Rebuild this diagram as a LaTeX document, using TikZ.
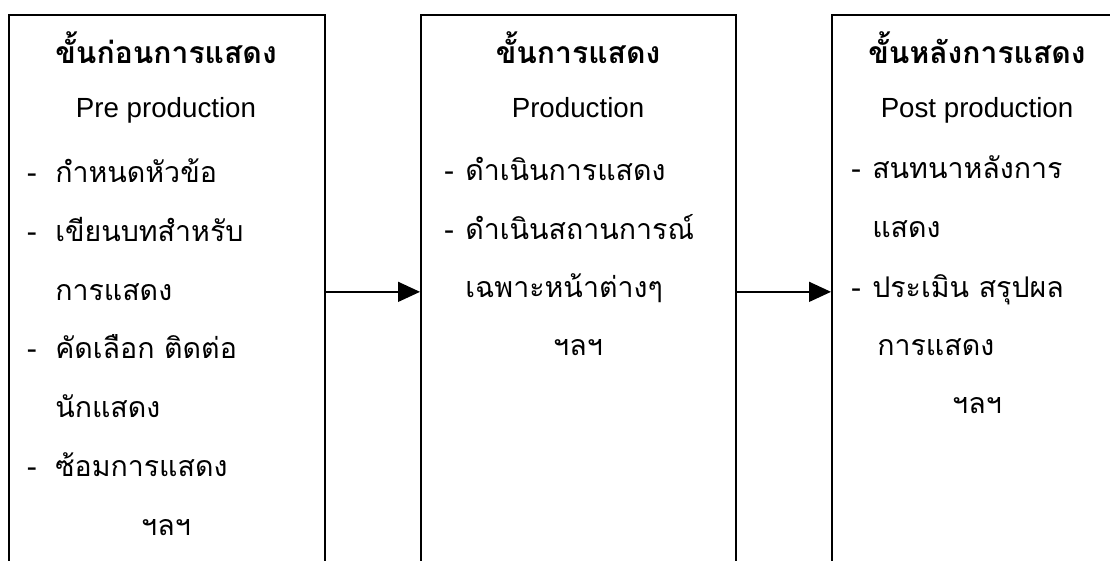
\documentclass[tikz,border=0pt]{standalone}
\usepackage{fontspec}
\setmainfont{Liberation Sans}
\newfontfamily\thaifont[Script=Thai]{Loma}
\usetikzlibrary{arrows.meta}

% dash hanging left of an item line
\newcommand{\itm}[2][0.65em]{\llap{-\hspace{#1}}#2}

\tikzset{
    stagebox/.style={draw, line width=1.1pt, anchor=north west, inner sep=0pt,
        minimum height=13.85cm},
    txt/.style={inner sep=0pt, font=\fontsize{20.3}{24}\selectfont\thaifont},
    head/.style={txt, anchor=base, font=\fontsize{21.4}{24}\selectfont\thaifont\bfseries},
    eng/.style={txt, anchor=base, font=\fontsize{19.7}{24}\selectfont},
    item/.style={txt, anchor=base west},
    flow/.style={line width=1.1pt, -{Triangle[length=0.55cm,width=0.5cm]}}
}

\begin{document}
\begin{tikzpicture}[x=0.025cm, y=-0.025cm]

\useasboundingbox (0,0) rectangle (1110,560);

% stage boxes (run past the bottom of the page)
\node[stagebox, minimum width=7.9cm] (pre) at (8,14) {};
\node[stagebox, minimum width=7.875cm] (prod) at (420,14) {};
\node[stagebox, minimum width=7.4cm] (post) at (831,14) {};

% pre production
\node[head] (pretitle) at (166,63) {ขั้นก่อนการแสดง};
\node[eng] (preeng) at (166,117) {Pre production};
\node[item] (pre1) at (55,182) {\itm{กำหนดหัวข้อ}};
\node[item] (pre2) at (55,241) {\itm{เขียนบทสำหรับ}};
\node[item] (pre2b) at (55,300) {การแสดง};
\node[item] (pre3) at (55,358) {\itm{คัดเลือก ติดต่อ}};
\node[item] (pre3b) at (55,417) {นักแสดง};
\node[item] (pre4) at (55,476) {\itm{ซ้อมการแสดง}};
\node[txt, anchor=base] (preetc) at (166,535) {ฯลฯ};

% production
\node[head] (prodtitle) at (578,63) {ขั้นการแสดง};
\node[eng] (prodeng) at (578,117) {Production};
\node[item] (prod1) at (465,180) {\itm[0.4em]{ดำเนินการแสดง}};
\node[item] (prod2) at (465,239) {\itm[0.4em]{ดำเนินสถานการณ์}};
\node[item] (prod2b) at (465,297) {เฉพาะหน้าต่างๆ};
\node[txt, anchor=base] (prodetc) at (578,355) {ฯลฯ};

% post production
\node[head] (posttitle) at (977,63) {ขั้นหลังการแสดง};
\node[eng] (posteng) at (977,117) {Post production};
\node[item] (post1) at (872,178) {\itm[0.4em]{สนทนาหลังการ}};
\node[item] (post1b) at (872,237) {แสดง};
\node[item] (post2) at (872,297) {\itm[0.4em]{ประเมิน สรุปผล}};
\node[item] (post2b) at (877,355) {การแสดง};
\node[txt, anchor=base] (postetc) at (977,413) {ฯลฯ};

\draw[flow] (pre) -- (prod);
\draw[flow] (prod) -- (post);

\end{tikzpicture}
\end{document}
